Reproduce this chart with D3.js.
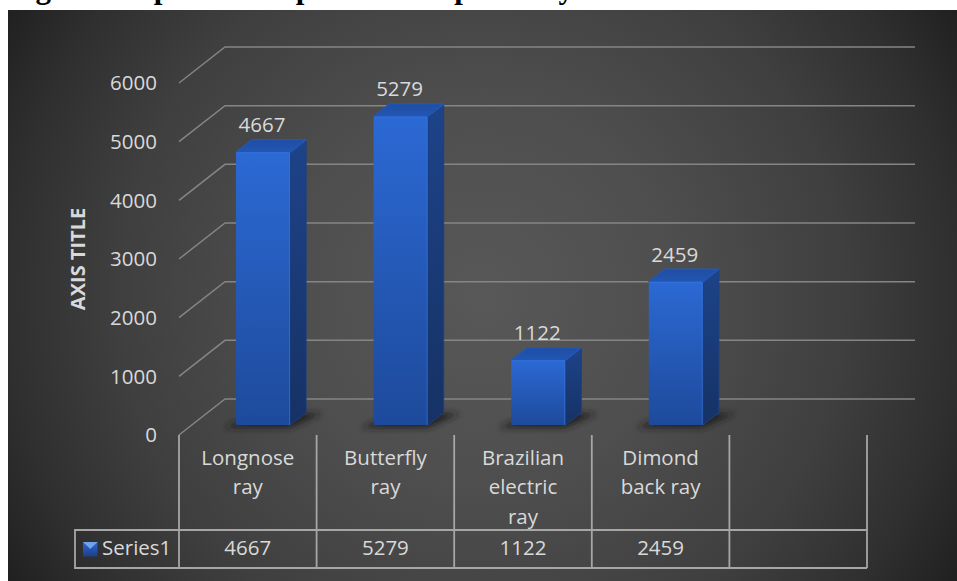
<!DOCTYPE html>
<html><head><meta charset="utf-8">
<style>html,body{margin:0;padding:0;background:#fff;overflow:hidden}svg{display:block}text{font-family:"Open Sans",Lato,sans-serif}</style>
<script src="https://cdn.jsdelivr.net/npm/d3@7/dist/d3.min.js"></script>
</head><body><svg id="c" width="957" height="581"></svg>
<script>
const chartTitle = "Figure 4: Species composition of species by";
const categories = ["Longnose ray","Butterfly ray","Brazilian electric ray","Dimond back ray",""];
const categoryLines = [["Longnose","ray"],["Butterfly","ray"],["Brazilian","electric","ray"],["Dimond","back ray"],[]];
const values = [4667,5279,1122,2459,null];
const tickValues = [0,1000,2000,3000,4000,5000,6000];
const seriesName = "Series1";
const axisTitle = "AXIS TITLE";

const svg = d3.select("#c");
const x = d3.scaleBand().domain(categories).range([179,867]);
const y = d3.scaleLinear().domain([0,6000]).range([435,83]);
const depth = {dx:46, dy:-36};
const gapF = 0.33, barF = 0.35, barW = 54;
const txt = "#d9d9d9";
const fs = "20.5px";

const defs = svg.append("defs");
const bg = defs.append("radialGradient").attr("id","bg").attr("gradientUnits","userSpaceOnUse")
  .attr("cx",482).attr("cy",295).attr("r",560);
[[0,"#585858"],[0.35,"#4e4e4e"],[0.65,"#3f3f3f"],[0.85,"#2f2f2f"],[1,"#1f1f1f"]].forEach(s=>bg.append("stop").attr("offset",s[0]).attr("stop-color",s[1]));
function grad(id,a,b){
  const g=defs.append("linearGradient").attr("id",id).attr("x1",0).attr("y1",0).attr("x2",0).attr("y2",1);
  g.append("stop").attr("offset",0).attr("stop-color",a);
  g.append("stop").attr("offset",1).attr("stop-color",b);
}
grad("front","#2c69d4","#1d4a9b");
grad("side","#1d4389","#163265");
grad("topf","#1f4da3","#2257b3");
defs.append("filter").attr("id","blur").attr("x","-30%").attr("y","-100%").attr("width","160%").attr("height","300%")
  .append("feGaussianBlur").attr("stdDeviation",3);

svg.append("rect").attr("x",8).attr("y",10).attr("width",949).attr("height",571).attr("fill","url(#bg)");

// title, cut off by the top edge of the picture
svg.append("text").attr("x",8).attr("y",-2.5).attr("fill","#000")
  .style("font-family","'Liberation Serif',serif").style("font-weight","bold").style("font-size","31px").text(chartTitle);

// gridlines on the side and back walls
const line = d3.line();
const gridRight = 915;
svg.append("g").selectAll("path").data(tickValues).join("path")
  .attr("d",t=>line([[x.range()[0],y(t)],[x.range()[0]+depth.dx,y(t)+depth.dy],[gridRight,y(t)+depth.dy]]))
  .attr("fill","none").attr("stroke","#858585").attr("stroke-width",1.5);

// y axis labels
svg.append("g").selectAll("text").data(tickValues).join("text")
  .attr("x",157).attr("y",t=>y(t)).attr("dy","0.36em").attr("text-anchor","end")
  .attr("fill",txt).style("font-size",fs).text(d3.format("d"));

svg.append("text").attr("transform","translate(85,259) rotate(-90)").attr("text-anchor","middle")
  .attr("fill",txt).style("font-size","20px").style("font-weight","bold").text(axisTitle);

// bars
const data = categories.map((c,i)=>({c,v:values[i]})).filter(d=>d.v!=null);
const frontX = d=>x(d.c)+x.bandwidth()/2-barW/2+depth.dx*gapF;
const base = y(0)+depth.dy*gapF+2;
const topY = d=>y(d.v)+depth.dy*gapF+3;
const bx = depth.dx*barF, by = depth.dy*barF;
const bars = svg.append("g").selectAll("g").data(data).join("g");
bars.append("path").attr("filter","url(#blur)").attr("fill","#1c1c1c").attr("fill-opacity",.9)
  .attr("d",d=>{const a=frontX(d);return line([[a-12,base+3],[a+barW,base+3],[a+barW+bx+16,base+by+1],[a+barW,base+by],[a,base-3]])+"Z";});
bars.append("path").attr("fill","url(#side)").attr("stroke","#1b3f82").attr("stroke-width",1).attr("stroke-linejoin","round")
  .attr("d",d=>{const a=frontX(d)+barW,t=topY(d);return line([[a,t],[a+bx,t+by],[a+bx,base+by],[a,base]])+"Z";});
bars.append("path").attr("fill","url(#topf)").attr("stroke","#2257b3").attr("stroke-width",1.5).attr("stroke-linejoin","round")
  .attr("d",d=>{const a=frontX(d),t=topY(d);return line([[a,t],[a+bx,t+by],[a+barW+bx,t+by],[a+barW,t]])+"Z";});
bars.append("rect").attr("x",frontX).attr("y",topY).attr("width",barW).attr("height",d=>base-topY(d))
  .attr("rx",1.5).attr("fill","url(#front)");
bars.append("path").attr("fill","none").attr("stroke","#3a7ae6").attr("stroke-opacity",.55).attr("stroke-width",1)
  .attr("d",d=>{const a=frontX(d),t=topY(d)+.5;return line([[a+.5,t],[a+barW-.5,t],[a+barW-.5,base]]);});
bars.append("text").attr("x",d=>frontX(d)+barW/2-1).attr("y",d=>topY(d)-20).attr("text-anchor","middle")
  .attr("fill",txt).style("font-size",fs).text(d=>d.v);

// data table
const tTop=y(0), tMid=530, tBot=568, tLeft=75;
const edges=[...categories.map(c=>x(c)), x.range()[1]];
const tbl=svg.append("g").attr("stroke","#a6a6a6").attr("stroke-width",1.8).attr("fill","none");
tbl.selectAll("line.v").data(edges).join("line").attr("x1",d=>d).attr("x2",d=>d).attr("y1",tTop).attr("y2",tBot);
tbl.append("path").attr("d",line([[x.range()[1],tMid],[tLeft,tMid],[tLeft,tBot],[x.range()[1],tBot]]));

const cells=svg.append("g").selectAll("g").data(categories).join("g");
cells.each(function(c,i){
  const cx=x(c)+x.bandwidth()/2, g=d3.select(this);
  categoryLines[i].forEach((l,j)=>g.append("text").attr("x",cx).attr("y",465+j*29.3).attr("text-anchor","middle")
    .attr("fill",txt).style("font-size",fs).text(l));
  if(values[i]!=null) g.append("text").attr("x",cx).attr("y",555).attr("text-anchor","middle")
    .attr("fill",txt).style("font-size",fs).text(values[i]);
});

// legend key
grad("key","#2c69d4","#1d3f86");
const key=svg.append("g").attr("transform","translate(83,542)");
key.append("rect").attr("width",14.5).attr("height",14.5).attr("fill","url(#key)");
key.append("path").attr("d",line([[0,0],[14.5,0],[7.25,7]])+"Z").attr("fill","#6fa3ea");
svg.append("text").attr("x",102).attr("y",555).attr("fill",txt).style("font-size",fs).text(seriesName);
</script></body></html>
